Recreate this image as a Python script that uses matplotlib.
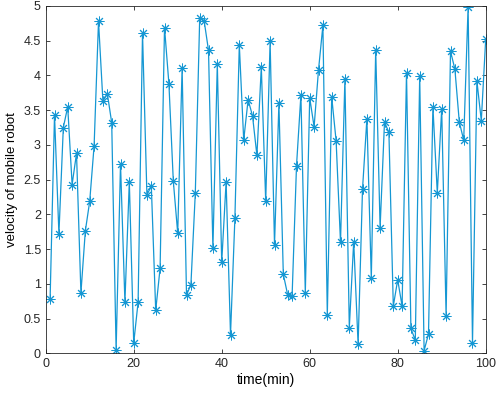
import matplotlib
matplotlib.use("Agg")
import matplotlib.pyplot as plt

plt.rcParams["font.family"] = ["Liberation Sans", "DejaVu Sans"]

time_min = list(range(1, 101))
velocity = [
    0.79, 3.43, 1.72, 3.25, 3.55, 2.43, 2.88, 0.87, 1.76, 2.19,
    2.99, 4.78, 3.63, 3.74, 3.32, 0.05, 2.73, 0.74, 2.47, 0.15,
    0.74, 4.61, 2.28, 2.41, 0.62, 1.23, 4.69, 3.88, 2.48, 1.73,
    4.11, 0.84, 0.99, 2.31, 4.83, 4.79, 4.36, 1.51, 4.17, 1.31,
    2.47, 0.27, 1.95, 4.44, 3.07, 3.65, 3.42, 2.85, 4.12, 2.19,
    4.49, 1.56, 3.60, 1.14, 0.84, 0.83, 2.70, 3.72, 0.87, 3.68,
    3.26, 4.08, 4.72, 0.55, 3.69, 3.06, 1.60, 3.95, 0.37, 1.61,
    0.13, 2.36, 3.38, 1.08, 4.37, 1.81, 3.33, 3.18, 0.68, 1.06,
    0.68, 4.04, 0.36, 0.19, 3.99, 0.04, 0.28, 3.55, 2.31, 3.52,
    0.54, 4.35, 4.09, 3.33, 3.07, 4.99, 0.15, 3.92, 3.35, 4.52,
]
x_ticks = [0, 20, 40, 60, 80, 100]
y_ticks = [0, 0.5, 1, 1.5, 2, 2.5, 3, 3.5, 4, 4.5, 5]
y_tick_labels = ["0", "0.5", "1", "1.5", "2", "2.5", "3", "3.5", "4", "4.5", "5"]

fig = plt.figure(figsize=(4.98, 3.98), dpi=100)
ax = fig.add_axes([0.0918, 0.112, 0.8835, 0.873])

# MATLAB-style asterisk marker
ax.plot(time_min, velocity, color="#1597d3", linewidth=0.9,
        marker=(8, 2, 0), markersize=7, markeredgewidth=0.7,
        markeredgecolor="#1597d3")

ax.set_xlim(0, 100)
ax.set_ylim(0, 5)
ax.set_xticks(x_ticks)
ax.set_yticks(y_ticks)
ax.set_yticklabels(y_tick_labels)
ax.tick_params(direction="in", length=3, width=0.6, colors="#262626",
               labelsize=9, top=True, right=True, labeltop=False, labelright=False)
for spine in ax.spines.values():
    spine.set_color("#262626")
    spine.set_linewidth(0.6)

ax.set_xlabel("time(min)", fontsize=10, labelpad=2)
ax.set_ylabel("velocity of mobile robot", fontsize=9.5, labelpad=4)

fig.savefig("out.png", dpi=100)
